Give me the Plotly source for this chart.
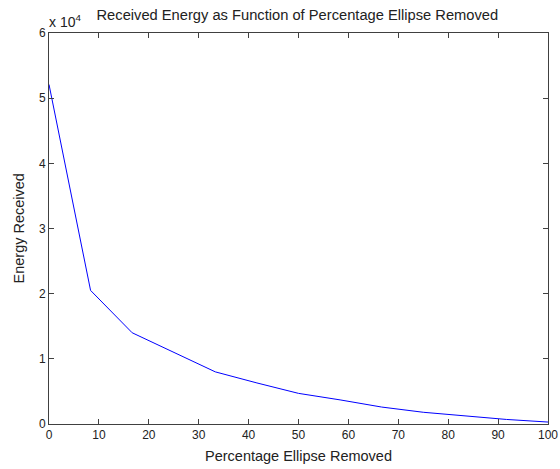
import plotly.graph_objects as go

pct_removed = [0, 8.33, 16.67, 25, 33.33, 41.67, 50, 58.33, 66.67, 75, 83.33, 91.67, 100]
energy = [52100, 20500, 14000, 11000, 8000, 6300, 4700, 3700, 2600, 1800, 1200, 700, 300]

y_ticks = [0, 10000, 20000, 30000, 40000, 50000, 60000]
y_tick_text = ["0", "1", "2", "3", "4", "5", "6"]
x_ticks = list(range(0, 101, 10))

FAMILY = "Liberation Sans, Arial, sans-serif"
tick_font = dict(family=FAMILY, size=12, color="#222222")
label_font = dict(family=FAMILY, size=14.5, color="#222222")

fig = go.Figure()
fig.add_trace(go.Scatter(
    x=pct_removed, y=energy, mode="lines",
    line=dict(color="#0000FF", width=1),
    showlegend=False
))

axis_style = dict(
    showline=True, linecolor="#404040", linewidth=1, mirror="ticks",
    ticks="inside", ticklen=5, tickcolor="#404040",
    showgrid=False, zeroline=False, tickfont=tick_font, automargin=False,
    ticklabeloverflow="allow"
)

fig.update_layout(
    width=560, height=469,
    paper_bgcolor="white", plot_bgcolor="white",
    margin=dict(l=49, r=12, t=33, b=45),
    font=tick_font,
    title=dict(text="Received Energy as Function of Percentage Ellipse Removed",
               x=0.531, xanchor="center", y=0.968, yanchor="middle",
               font=dict(family=FAMILY, size=14.7, color="#222222")),
    xaxis=dict(axis_style, range=[0, 100], tickvals=x_ticks),
    yaxis=dict(axis_style, range=[0, 60000], tickvals=y_ticks, ticktext=y_tick_text),
)

# axis titles placed as annotations to keep the plot box fixed
fig.add_annotation(
    x=0.5, y=0, xref="paper", yref="paper", yshift=-32,
    text="Percentage Ellipse Removed", showarrow=False, font=label_font,
    xanchor="center", yanchor="middle"
)
fig.add_annotation(
    x=0, y=0.5, xref="paper", yref="paper", xshift=-31,
    text="Energy Received", showarrow=False, font=label_font, textangle=-90,
    xanchor="center", yanchor="middle"
)
fig.add_annotation(
    x=0, y=1, xref="paper", yref="paper", xanchor="left", yanchor="bottom",
    text="x 10<sup>4</sup>", showarrow=False, yshift=1, xshift=-2,
    font=dict(family=FAMILY, size=14, color="#222222")
)

# drop the default page margin so the figure fills the window exactly
fig.write_html("out.html", config={"displayModeBar": False},
               post_script="document.body.style.margin='0';")
